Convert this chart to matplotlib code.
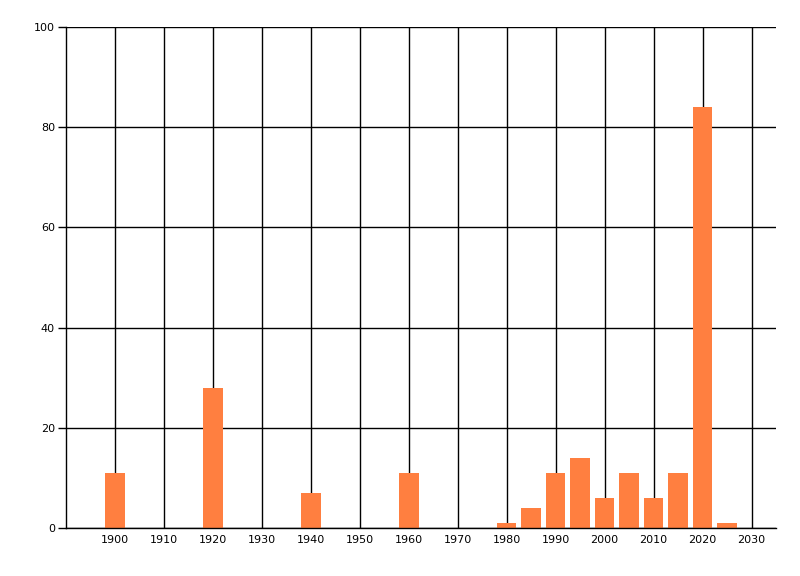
import matplotlib
matplotlib.use("Agg")
import matplotlib.pyplot as plt

years = [1900, 1920, 1940, 1960, 1980, 1985, 1990, 1995, 2000, 2005, 2010, 2015, 2020, 2025]
counts = [11, 28, 7, 11, 1, 4, 11, 14, 6, 11, 6, 11, 84, 1]
x_ticks = list(range(1900, 2031, 10))
y_ticks = [0, 20, 40, 60, 80, 100]

fig = plt.figure(figsize=(8, 5.76), dpi=100)
ax = fig.add_axes([66/800, 1-528/576, (776-66)/800, (528-27)/576])
ax.set_axisbelow(True)
ax.bar(years, counts, width=4, color="#FF7F40", zorder=2)
ax.set_xlim(1890, 2035)
ax.set_ylim(0, 100)
ax.set_xticks(x_ticks)
ax.set_yticks(y_ticks)
ax.grid(True, color="black", linewidth=1)
for s in ["top", "right"]:
    ax.spines[s].set_visible(False)
for s in ["left", "bottom"]:
    ax.spines[s].set_color("black")
    ax.spines[s].set_linewidth(1)
ax.tick_params(axis="y", length=6, width=1, labelsize=8, pad=2)
ax.tick_params(axis="x", length=0, labelsize=8, pad=5)
fig.savefig("out.png", dpi=100, facecolor="white")
